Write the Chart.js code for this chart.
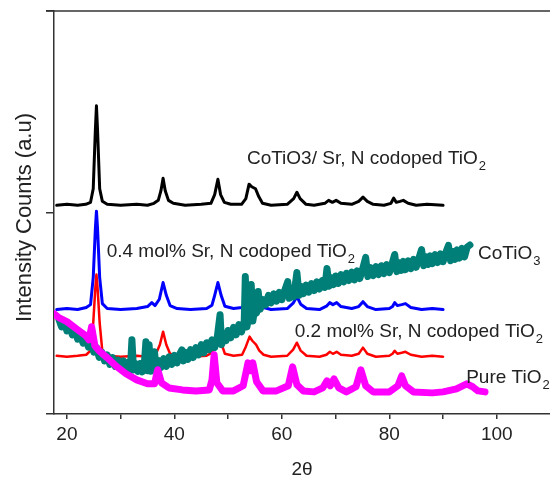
<!DOCTYPE html>
<html>
<head>
<meta charset="utf-8">
<script src="https://cdn.jsdelivr.net/npm/chart.js@4"></script>
<style>
  html, body { margin: 0; padding: 0; background: #fff; }
  #xrd { display: block; }
</style>
</head>
<body>
<canvas id="xrd" width="550" height="479"></canvas>
<script>
// 2theta / intensity pairs (arbitrary units, offset per sample)
const cotio3SrN = [
  [18.1,1016],[20,1021],[22,1016],[23.5,1021],[24.4,1031],[24.9,1100],[25.3,1400],[25.5,1520],
  [25.7,1400],[26.1,1100],[26.6,1036],[27.5,1021],[30,1016],[33,1021],[35,1016],[36.2,1026],
  [37,1041],[37.5,1090],[37.9,1153],[38.3,1090],[38.9,1041],[39.8,1026],[42,1016],[45,1021],
  [46.8,1026],[47.5,1070],[48.1,1148],[48.6,1070],[49.3,1031],[50.5,1021],[52.5,1021],[53.3,1050],
  [53.9,1123],[54.4,1110],[55.1,1100],[55.7,1060],[56.4,1026],[58,1016],[61,1021],[62.2,1050],
  [62.8,1082],[63.4,1050],[64.5,1021],[66,1016],[68,1026],[68.7,1041],[69.4,1031],[70.1,1041],
  [71,1026],[73,1021],[74.3,1036],[75.1,1057],[75.9,1036],[77,1021],[79,1016],[80.3,1026],
  [80.8,1052],[81.3,1031],[82,1036],[82.6,1041],[83.5,1026],[85,1016],[87,1021],[90,1016]
];

const sr04 = [
  [18.1,488],[20,493],[22,488],[23.6,498],[24.4,513],[24.9,650],[25.3,900],[25.5,986],
  [25.7,900],[26.1,650],[26.6,518],[27.5,493],[30,488],[33,493],[35,503],[35.8,523],
  [36.4,508],[37.2,540],[37.9,625],[38.5,560],[39.2,508],[40.5,493],[43,488],[46,493],
  [47,510],[47.5,560],[48.1,625],[48.7,560],[49.4,505],[51,493],[52.6,498],[53.3,540],
  [54,589],[54.5,575],[55.2,564],[55.8,525],[56.6,498],[58,488],[61,493],[62.1,520],
  [62.8,554],[63.5,515],[64.6,493],[67,488],[68.3,505],[68.9,523],[69.5,513],[70.2,523],
  [71,503],[73,493],[74.3,503],[75.1,528],[75.9,503],[77.5,488],[80,493],[80.6,503],
  [81,523],[81.5,508],[82.3,513],[83,518],[84,498],[86,488],[88,493],[90,488]
];

const sr02 = [
  [18.1,254],[20,249],[22,254],[23.6,259],[24.4,280],[24.9,420],[25.3,600],[25.5,665],
  [25.7,600],[26.1,420],[26.6,275],[27.5,254],[30,249],[33,254],[35,249],[36.5,259],
  [37.3,310],[37.9,376],[38.5,310],[39.2,264],[40.5,254],[43,249],[46,254],[47,270],
  [47.5,320],[48.1,376],[48.7,320],[49.4,264],[51,254],[52.6,259],[53.3,300],[54,351],
  [54.5,330],[55.2,310],[55.8,280],[56.6,259],[58,249],[61,254],[62.1,285],[62.8,320],
  [63.5,280],[64.6,254],[67,249],[68.3,259],[68.9,274],[69.5,264],[70.2,274],[71,259],
  [73,254],[74.3,264],[75.1,295],[75.9,264],[77.5,249],[80,254],[80.6,264],[81,279],
  [81.5,264],[82.3,269],[83,274],[84,259],[86,249],[88,254],[90,249]
];

const cotio3 = [
  [18.5,440],[19,400],[19.5,425],[20,380],[20.5,405],[21,360],[21.5,385],[22,338],[22.5,365],
  [23,318],[23.5,345],[24,298],[24.5,322],[25,272],[25.5,297],[26,246],[26.5,272],[27,228],
  [27.5,258],[28,210],[28.5,245],[29,200],[29.5,232],[30,190],[30.5,228],[31,183],[31.5,222],
  [31.8,180],[32.1,335],[32.4,182],[32.8,215],[33.2,175],[33.6,215],[34,172],[34.4,210],
  [34.7,325],[35,178],[35.3,310],[35.6,175],[36,220],[36.3,274],[36.6,190],[37,230],[37.5,195],
  [38,240],[38.5,200],[39,248],[39.5,210],[40,256],[40.5,218],[41,262],[41.4,284],[41.7,228],
  [42,272],[42.5,235],[43,285],[43.5,245],[44,295],[44.5,258],[45,310],[45.5,268],[46,320],
  [46.5,285],[47,335],[47.5,295],[48,352],[48.5,462],[48.8,310],[49.2,365],[49.6,330],[50,382],
  [50.5,345],[51,398],[51.5,360],[52,412],[52.5,375],[53,430],[53.2,655],[53.5,400],[53.9,455],
  [54.3,615],[54.6,430],[55,500],[55.3,470],[55.6,579],[56,490],[56.5,538],[57,512],[57.5,560],
  [58,522],[58.5,568],[59,530],[59.5,575],[60,538],[60.5,582],[61.1,630],[61.4,545],[61.8,595],
  [62.2,552],[62.8,676],[63.2,560],[63.6,605],[64,568],[64.5,612],[65,576],[65.5,620],[66,584],
  [66.5,628],[67,592],[67.5,635],[68,600],[68.4,696],[68.8,606],[69.2,650],[69.6,614],[70,658],
  [70.5,620],[71,665],[71.5,628],[72,672],[72.5,635],[73,678],[73.5,638],[74,684],[74.5,645],
  [75,690],[75.6,752],[76,655],[76.5,700],[77,660],[77.5,705],[78,665],[78.5,710],[79,670],
  [79.5,716],[80,675],[80.5,720],[81,767],[81.4,680],[81.8,726],[82.2,686],[82.6,732],[83,690],
  [83.5,735],[84,695],[84.5,742],[85,702],[85.5,748],[86,792],[86.4,710],[86.8,756],[87.2,716],
  [87.6,760],[88,720],[88.5,766],[89,726],[89.5,770],[90,730],[90.5,776],[91,813],[91.4,735],
  [91.8,782],[92.2,742],[92.6,790],[93,748],[93.5,798],[94,755],[94.5,805],[95,815]
];

const pureTiO2 = [
  [17.6,467],[18.5,447],[20,427],[22,386],[23.5,356],[24.1,335],[24.6,401],[25.2,305],
  [26,279],[27.5,244],[29.3,198],[31,163],[33,132],[35,112],[36.3,112],[36.9,183],[37.6,117],
  [39,91],[41.5,81],[44,76],[46.5,81],[47,132],[47.4,259],[47.9,117],[49,76],[51,76],
  [52.8,102],[53.7,218],[54.1,178],[54.6,218],[55.3,122],[56.5,76],[59,76],[61.2,102],
  [62,198],[62.8,107],[64,76],[66,71],[67.6,91],[68.4,127],[69,102],[69.7,137],[70.6,91],
  [72,71],[73.8,97],[74.7,183],[75.6,102],[77,71],[80,71],[81.6,102],[82.3,152],[83,102],
  [84.5,71],[88,66],[90,71],[92.5,86],[94.4,112],[95.5,97],[96.5,76],[97.8,71]
];

const xTickLabels = [20, 40, 60, 80, 100];

// sample labels, placed in data coordinates
const notes = [
  { x: 53.5, y: 1224, text: 'CoTiO3/ Sr, N codoped TiO', sub: '2' },
  { x: 27.4, y: 752, text: '0.4 mol% Sr, N codoped TiO', sub: '2' },
  { x: 96.5, y: 742, text: 'CoTiO', sub: '3' },
  { x: 62.4, y: 351, text: '0.2 mol% Sr, N codoped TiO', sub: '2' },
  { x: 94.3, y: 117, text: 'Pure TiO', sub: '2' }
];

const toPoints = arr => arr.map(p => ({ x: p[0], y: p[1] }));
const FONT = '"Liberation Sans", Arial, sans-serif';

const notesPlugin = {
  id: 'notes',
  afterDatasetsDraw(chart) {
    const ctx = chart.ctx;
    const area = chart.chartArea;
    const xs = chart.scales.x, ys = chart.scales.y;
    ctx.save();
    // top frame line, with the outward tick at the top of the y axis
    ctx.strokeStyle = '#333';
    ctx.lineWidth = 1.5;
    ctx.beginPath();
    ctx.moveTo(area.left - 8, area.top);
    ctx.lineTo(area.right, area.top);
    ctx.stroke();

    // y axis title
    ctx.fillStyle = '#222';
    ctx.font = '22px ' + FONT;
    ctx.textAlign = 'center';
    ctx.textBaseline = 'middle';
    ctx.translate(25, (area.top + area.bottom) / 2 + 5);
    ctx.rotate(-Math.PI / 2);
    ctx.fillText('Intensity Counts (a.u)', 0, 0);
    ctx.setTransform(1, 0, 0, 1, 0, 0);

    ctx.textAlign = 'left';
    ctx.textBaseline = 'alphabetic';
    notes.forEach(n => {
      const px = xs.getPixelForValue(n.x);
      const py = ys.getPixelForValue(n.y);
      ctx.font = '19px ' + FONT;
      ctx.fillText(n.text, px, py);
      const w = ctx.measureText(n.text).width;
      ctx.font = '13px ' + FONT;
      ctx.fillText(n.sub, px + w + 1, py + 6);
    });
    ctx.restore();
  }
};

const series = [
  { data: cotio3SrN, color: '#000000', width: 3, join: 'round', order: 5 },
  { data: sr04, color: '#0000ff', width: 3, join: 'round', order: 4 },
  { data: sr02, color: '#ff0000', width: 2.5, join: 'round', order: 3 },
  { data: cotio3, color: '#007f78', width: 7, join: 'round', order: 2 },
  { data: pureTiO2, color: '#ff00ff', width: 7, join: 'round', order: 1 }
];

new Chart(document.getElementById('xrd'), {
  type: 'line',
  data: {
    datasets: series.map(s => ({
      data: toPoints(s.data),
      borderColor: s.color,
      backgroundColor: s.color,
      borderWidth: s.width,
      pointRadius: 0,
      tension: 0,
      borderJoinStyle: s.join,
      borderCapStyle: 'round',
      order: s.order
    }))
  },
  options: {
    responsive: false,
    animation: false,
    devicePixelRatio: 1,
    layout: { padding: { top: 11, right: 0, left: 0, bottom: 0 } },
    plugins: { legend: { display: false }, tooltip: { enabled: false } },
    scales: {
      x: {
        type: 'linear',
        min: 17.6,
        max: 109.9,
        ticks: {
          stepSize: 10,
          includeBounds: false,
          padding: 0,
          color: '#222',
          font: { family: FONT, size: 19, lineHeight: 1.7 },
          maxRotation: 0,
          autoSkip: false,
          callback: v => xTickLabels.includes(v) ? String(v) : ''
        },
        grid: { drawOnChartArea: false, tickLength: 5, color: '#333', lineWidth: 1.5 },
        border: { color: '#333', width: 1.5 },
        title: {
          display: true,
          text: '2θ',
          color: '#222',
          font: { family: FONT, size: 19, lineHeight: 1 },
          padding: 0
        },
        afterFit: s => { s.height = 65; }
      },
      y: {
        min: -41,
        max: 2000,
        ticks: { stepSize: 1000, includeBounds: false, display: false },
        grid: { drawOnChartArea: false, tickLength: 8, color: '#333', lineWidth: 1.5 },
        border: { color: '#333', width: 1.5 },
        afterFit: s => { s.width = 54; }
      }
    }
  },
  plugins: [notesPlugin]
});
</script>
</body>
</html>
